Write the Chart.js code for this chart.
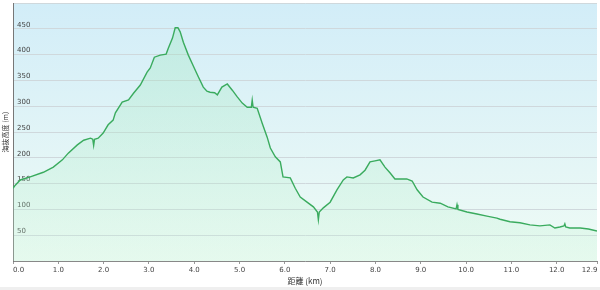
<!DOCTYPE html>
<html>
<head>
<meta charset="utf-8">
<script src="https://cdn.jsdelivr.net/npm/chart.js@4"></script>
<style>
  html, body { margin: 0; padding: 0; background: #efefef; }
  #wrap { width: 600px; height: 287px; background: #ffffff; }
</style>
</head>
<body>
<div id="wrap"><canvas id="myChart"></canvas></div>
<script>
// distance (km) and elevation (m)
const distance = [
  0.00, 0.05, 0.16, 0.38, 0.67, 0.89, 1.09, 1.22, 1.42, 1.56, 1.71, 1.76, 1.78, 1.80, 1.88, 1.99,
  2.10, 2.21, 2.26, 2.41, 2.55, 2.66, 2.81, 2.96, 3.03, 3.12, 3.25, 3.38, 3.43, 3.52, 3.58, 3.64,
  3.69, 3.76, 3.87, 3.98, 4.09, 4.20, 4.28, 4.35, 4.45, 4.51, 4.61, 4.73, 4.84, 4.95, 5.06, 5.17,
  5.26, 5.28, 5.30, 5.39, 5.50, 5.61, 5.68, 5.79, 5.90, 5.96, 6.12, 6.23, 6.34, 6.49, 6.63, 6.72,
  6.74, 6.76, 6.85, 7.00, 7.15, 7.29, 7.37, 7.51, 7.66, 7.77, 7.88, 7.99, 8.10, 8.21, 8.32, 8.43,
  8.54, 8.69, 8.81, 8.92, 9.05, 9.25, 9.43, 9.60, 9.78, 9.80, 9.82, 10.02, 10.24, 10.46, 10.68, 10.75,
  10.97, 11.19, 11.41, 11.63, 11.85, 11.96, 12.07, 12.16, 12.18, 12.20, 12.29, 12.52, 12.70, 12.89
];
const elevation = [
  141, 147, 157, 163, 172, 182, 196, 209, 225, 234, 238, 236, 224, 236, 238, 248,
  264, 273, 287, 308, 312, 325, 341, 366, 374, 395, 399, 401, 413, 432, 452, 452,
  444, 424, 399, 378, 357, 337, 329, 327, 326, 322, 337, 343, 331, 318, 306, 298,
  298, 312, 298, 296, 267, 240, 219, 202, 192, 163, 161, 141, 124, 114, 105, 95,
  80, 95, 103, 114, 138, 157, 163, 161, 167, 176, 192, 194, 196, 182, 171, 159,
  159, 159, 155, 138, 124, 114, 112, 105, 101, 109, 100, 95, 91, 87, 83, 81,
  76, 74, 70, 68, 70, 64, 66, 68, 72, 66, 64, 64, 62, 58
];
const xTickValues = [0, 1, 2, 3, 4, 5, 6, 7, 8, 9, 10, 11, 12, 12.9];
const hiddenYTicks = [0, 500];

const points = distance.map((d, i) => ({ x: d, y: elevation[i] }));

const areaBackground = {
  id: 'areaBackground',
  beforeDraw(chart) {
    const { ctx, chartArea } = chart;
    if (!chartArea) return;
    const g = ctx.createLinearGradient(0, chartArea.top, 0, chartArea.bottom);
    g.addColorStop(0, '#d2edf8');
    g.addColorStop(1, '#effbf5');
    ctx.save();
    ctx.fillStyle = g;
    ctx.fillRect(chartArea.left, chartArea.top, chartArea.right - chartArea.left, chartArea.bottom - chartArea.top);
    ctx.restore();
  }
};

const ctx = document.getElementById('myChart').getContext('2d');
ctx.canvas.width = 600;
ctx.canvas.height = 287;

const myChart = new Chart(ctx, {
  type: 'line',
  data: {
    datasets: [{
      data: points,
      borderColor: '#3aab5e',
      borderWidth: 1.4,
      pointRadius: 0,
      tension: 0,
      fill: 'origin',
      backgroundColor: (c) => {
        const area = c.chart.chartArea;
        if (!area) return 'rgba(150,230,180,0.25)';
        const g = c.chart.ctx.createLinearGradient(0, area.top, 0, area.bottom);
        g.addColorStop(0, 'rgba(140,225,175,0.30)');
        g.addColorStop(1, 'rgba(200,245,215,0.25)');
        return g;
      }
    }]
  },
  options: {
    responsive: false,
    animation: false,
    layout: { padding: { top: 3, right: 3 } },
    plugins: {
      legend: { display: false },
      tooltip: { enabled: false }
    },
    scales: {
      x: {
        type: 'linear',
        min: 0,
        max: 12.89,
        afterBuildTicks: (axis) => { axis.ticks = xTickValues.map(v => ({ value: v })); },
        afterFit: (axis) => { axis.height = 26; },
        grid: { drawOnChartArea: false, drawTicks: true, tickLength: 3, color: '#999' },
        border: { color: '#888' },
        ticks: {
          align: 'inner',
          maxRotation: 0,
          autoSkip: false,
          padding: 2,
          color: '#444',
          font: { family: 'DejaVu Sans', size: 7 },
          callback: (v) => Number(v).toFixed(1)
        },
        title: {
          display: true,
          text: '距離 (km)',
          color: '#333',
          padding: { top: 0, bottom: 1 },
          font: { family: 'Noto Sans CJK JP', size: 8 }
        }
      },
      y: {
        min: 0,
        max: 500,
        afterFit: (axis) => {
          axis.width = 13;
          axis.paddingTop = 0;
          axis.paddingBottom = 0;
        },
        grid: { drawTicks: false, color: '#cfd8dc' },
        border: { color: '#777' },
        ticks: {
          stepSize: 50,
          mirror: true,
          padding: 4,
          labelOffset: -4,
          color: '#444',
          font: { family: 'DejaVu Sans', size: 7 },
          callback: (v) => hiddenYTicks.includes(v) ? '' : v
        },
        title: {
          display: true,
          text: '海抜高度 (m)',
          color: '#333',
          padding: { top: 1, bottom: 0 },
          font: { family: 'Noto Sans CJK JP', size: 7 }
        }
      }
    }
  },
  plugins: [areaBackground]
});
</script>
</body>
</html>
